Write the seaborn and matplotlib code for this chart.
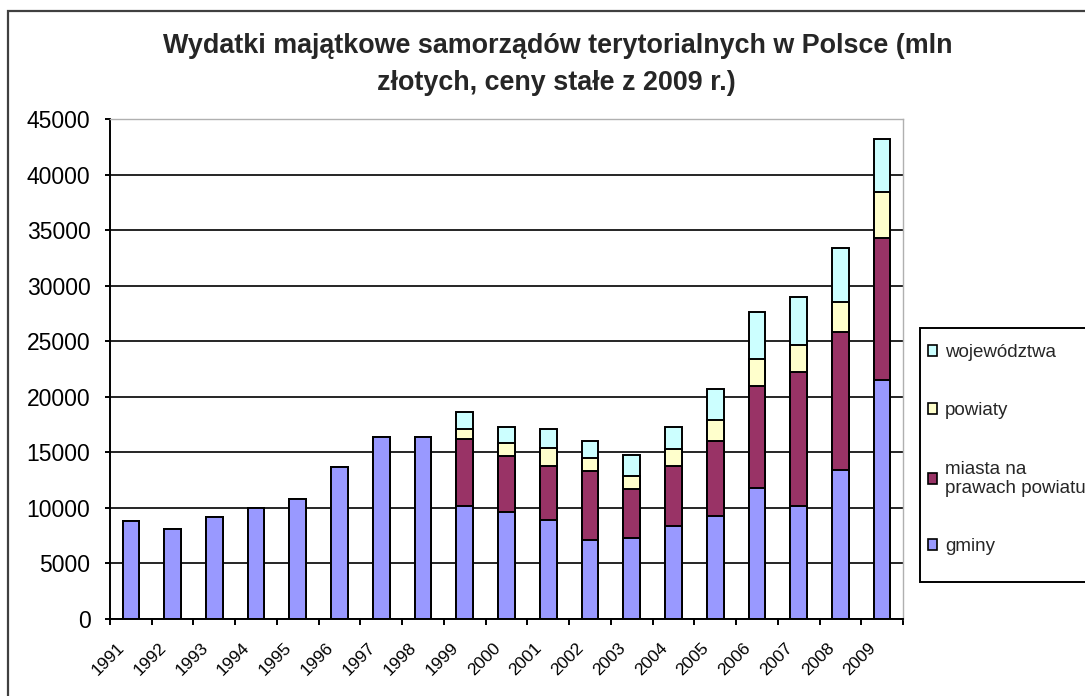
import matplotlib

matplotlib.use("Agg")
import matplotlib.pyplot as plt
import matplotlib.transforms as mtransforms
import numpy as np
import seaborn as sns
from matplotlib.patches import Patch, Rectangle

sns.set_theme(style="white")
plt.rcParams["font.family"] = ["Liberation Sans", "DejaVu Sans"]

years = ["1991", "1992", "1993", "1994", "1995", "1996", "1997", "1998", "1999", "2000",
         "2001", "2002", "2003", "2004", "2005", "2006", "2007", "2008", "2009"]
gminy = [8800, 8100, 9200, 10000, 10800, 13700, 16400, 16400, 10200, 9600,
         8900, 7100, 7300, 8400, 9300, 11800, 10200, 13400, 21500]
miasta = [0, 0, 0, 0, 0, 0, 0, 0, 6000, 5100,
          4900, 6200, 4400, 5400, 6700, 9200, 12000, 12400, 12800]
powiaty = [0, 0, 0, 0, 0, 0, 0, 0, 900, 1100,
           1600, 1200, 1200, 1500, 1900, 2400, 2500, 2700, 4100]
wojewodztwa = [0, 0, 0, 0, 0, 0, 0, 0, 1500, 1500,
               1700, 1500, 1900, 2000, 2800, 4200, 4300, 4900, 4800]

labels = ["gminy", "miasta na\nprawach powiatu", "powiaty", "województwa"]
colors = ["#9999FF", "#993366", "#FFFFCC", "#CCFFFF"]
series = [gminy, miasta, powiaty, wojewodztwa]

W, H = 1085, 696
fig = plt.figure(figsize=(W / 100, H / 100), dpi=100)
ax = fig.add_axes([110 / W, 1 - 619 / H, 793 / W, 500 / H])

# stacked bars: draw cumulative totals from the top layer down
cum = np.cumsum(np.array(series), axis=0)
for i in range(len(series) - 1, -1, -1):
    sns.barplot(x=years, y=cum[i], color=colors[i], saturation=1, width=0.4,
                edgecolor="black", linewidth=1.4, ax=ax)

ax.set_ylim(0, 45000)
ax.set_yticks(np.arange(0, 45001, 5000))
ax.set_xlim(-0.5, len(years) - 0.5)
ax.yaxis.grid(True, color="black", linewidth=1.2)
ax.set_axisbelow(True)
ax.set_xlabel("")
ax.set_ylabel("")

for s in ["top", "right"]:
    ax.spines[s].set_color("#B0B0B0")
    ax.spines[s].set_linewidth(1)
for s in ["left", "bottom"]:
    ax.spines[s].set_color("black")
    ax.spines[s].set_linewidth(1.4)

ax.tick_params(axis="y", direction="out", length=3.6, width=1.4, color="black",
               left=True, labelsize=16.5, labelcolor="black", pad=10.5)
ax.tick_params(axis="x", which="major", length=0, labelsize=12.5, labelcolor="black", pad=15)
ax.set_xticks(np.arange(-0.5, len(years), 1), minor=True)
ax.tick_params(axis="x", which="minor", direction="out", length=4, width=1.4,
               color="black", bottom=True)
shift = mtransforms.ScaledTranslation(-14 / 100, 0, fig.dpi_scale_trans)
for lab in ax.get_xticklabels():
    lab.set_rotation(45)
    lab.set_ha("right")
    lab.set_va("top")
    lab.set_rotation_mode("anchor")
    lab.set_transform(lab.get_transform() + shift)

fig.text(558 / W, 1 - 46 / H,
         "Wydatki majątkowe samorządów terytorialnych w Polsce (mln",
         ha="center", va="center", fontsize=19.4, fontweight="bold")
fig.text(556 / W, 1 - 83 / H, "złotych, ceny stałe z 2009 r.)",
         ha="center", va="center", fontsize=19.4, fontweight="bold")

# legend box (drawn separately so its padding matches the original)
fig.patches.append(Rectangle((920 / W, 1 - 582 / H), 200 / W, 254 / H,
                             transform=fig.transFigure, facecolor="white",
                             edgecolor="black", linewidth=1.4, zorder=0))
handles = [Patch(facecolor=colors[i], edgecolor="black", linewidth=1.2, label=labels[i])
           for i in range(len(labels) - 1, -1, -1)]
leg = fig.legend(handles=handles, loc="upper left",
                 bbox_to_anchor=(928 / W, 1 - 344 / H), frameon=False,
                 fontsize=13.5, labelspacing=2.2, handlelength=0.5, handleheight=0.5,
                 handletextpad=0.4, borderpad=0, borderaxespad=0)

fig.patches.append(Rectangle((8 / W, -0.1), 1.2, 1 - 11 / H + 0.1,
                             transform=fig.transFigure, fill=False,
                             edgecolor="#404040", linewidth=1.6))

fig.savefig("out.png", dpi=100)
